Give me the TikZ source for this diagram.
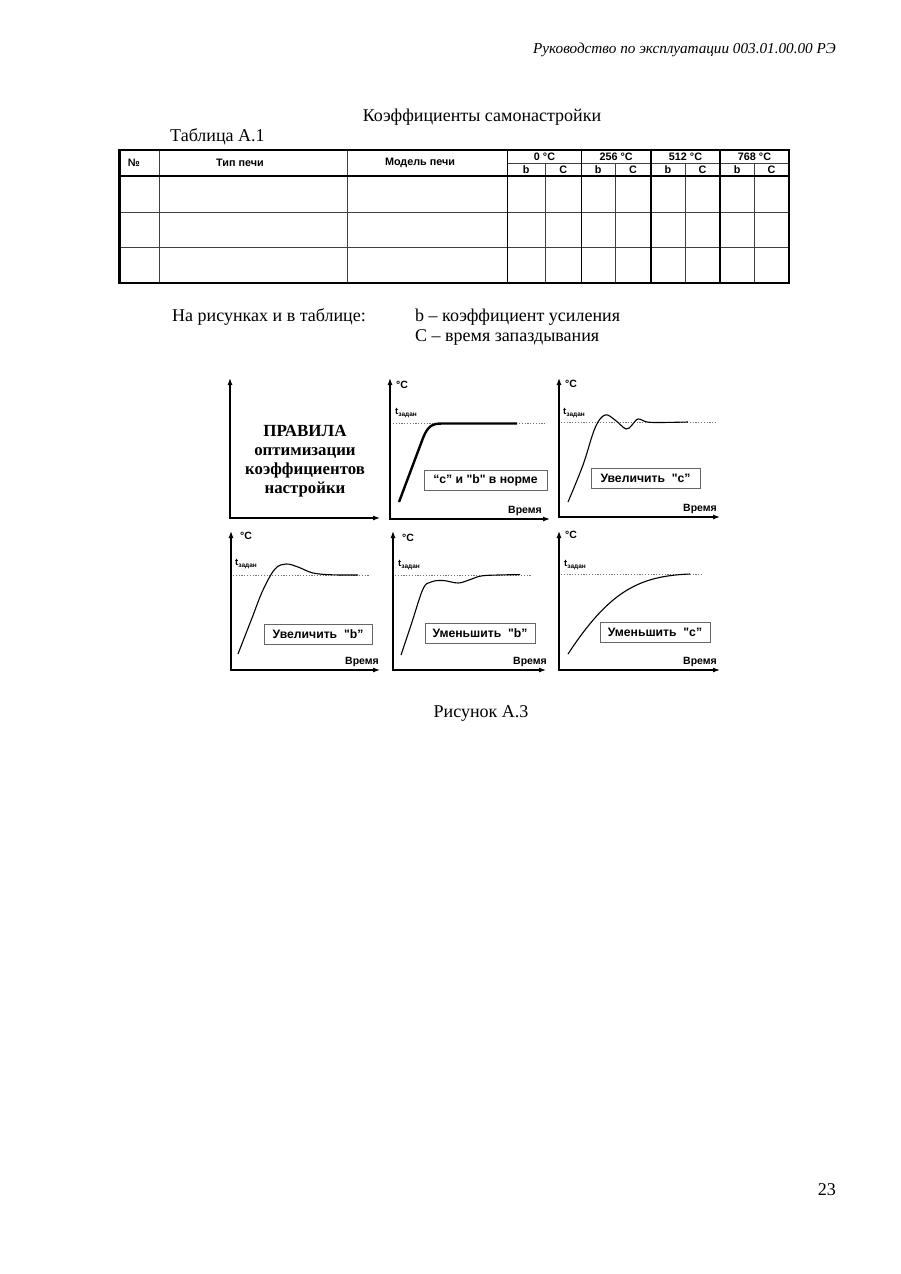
\documentclass[tikz,border=0pt]{standalone}
\usepackage{fontspec}
\setmainfont{Liberation Serif}
\setsansfont{Liberation Sans}
\usetikzlibrary{arrows.meta}
\newcommand\myaxes[5]{%
  \coordinate (#1-y) at (#2,#3);
  \coordinate (#1-o) at (#2,#4);
  \coordinate (#1-x) at (#5,#4);
  \draw[axisline] (#1-y) -- (#1-o) -- (#1-x);}
\newcommand\tzad{t\raisebox{-2.2pt}{\fontsize{6.5}{7}\selectfont задан}}
\begin{document}
\begin{tikzpicture}[x=1pt,y=-1pt,
  body/.style={font=\fontsize{18}{20}\selectfont,inner sep=0pt},
  thk/.style={line width=2.4pt},
  thn/.style={line width=0.9pt,black!75},
  hdr/.style={font=\sffamily\bfseries\fontsize{10.8}{11}\selectfont,inner sep=0pt},
  axisline/.style={line width=1.2pt,{Latex[length=7pt,width=5pt]}-{Latex[length=7pt,width=5pt]}},
  lbl/.style={font=\sffamily\bfseries\fontsize{10.5}{11}\selectfont,inner sep=0pt},
  tz/.style={font=\sffamily\bfseries\fontsize{9.5}{10}\selectfont,inner sep=0pt,anchor=west},
  setp/.style={black!55,line width=0.6pt,dash pattern=on 1.2pt off 1.6pt},
  curve/.style={line width=1.1pt},
  rule/.style={draw=black!60,line width=0.8pt,fill=white,font=\sffamily\bfseries\fontsize{12.2}{13}\selectfont,inner sep=0pt,minimum height=20pt},
  bigrule/.style={font=\bfseries\fontsize{16.8}{19}\selectfont,align=center,inner sep=0pt}
]
\useasboundingbox[fill=white] (0,0) rectangle (900,1274);

% header / footer
\node[body,font=\itshape\fontsize{15.2}{17}\selectfont,anchor=east] (hd) at (836,50) {Руководство по эксплуатации 003.01.00.00 РЭ};
\node[body,anchor=east] (pg) at (836,1190) {23};

% titles
\node[body] (title) at (482,117) {Коэффициенты самонастройки};
\node[body,anchor=west] (tab) at (170,137) {Таблица А.1};

% table lines
\foreach \x in {159,347} \draw[thn] (\x,150) -- (\x,283);
\foreach \x in {545,615,685,754.3} \draw[thn] (\x,163.3) -- (\x,283);
\foreach \y in {212,247.5} \draw[thn] (119.5,\y) -- (789,\y);
\draw[thn] (507.5,163.3) -- (789,163.3);
\foreach \x in {507.5,581.5,651,720} \draw[line width=1.8pt] (\x,150) -- (\x,283);
\draw[thk] (119.5,175.7) -- (789,175.7);
\draw[thk] (119.5,150) rectangle (789,283);

% table header text
\node[hdr] (hno) at (134,163) {№};
\node[hdr] (htype) at (240,163) {Тип печи};
\node[hdr] (hmod) at (420,163) {Модель печи};
\node[hdr] (g1) at (544.5,157) {0 °C};
\node[hdr] (g2) at (616.2,157) {256 °C};
\node[hdr] (g3) at (685.5,157) {512 °C};
\node[hdr] (g4) at (754.5,157) {768 °C};
\node[hdr] (b1) at (526.2,169.8) {b};
\node[hdr] (c1) at (563.2,169.8) {C};
\node[hdr] (b2) at (598.2,169.8) {b};
\node[hdr] (c2) at (633,169.8) {C};
\node[hdr] (b3) at (668,169.8) {b};
\node[hdr] (c3) at (702.5,169.8) {C};
\node[hdr] (b4) at (737.2,169.8) {b};
\node[hdr] (c4) at (771.6,169.8) {C};

% legend
\node[body,anchor=west] (leg) at (172,317) {На рисунках и в таблице:};
\node[body,anchor=west] (legb) at (415,317) {b – коэффициент усиления};
\node[body,anchor=west] (legc) at (415,337) {С – время запаздывания};

% panel 1
\myaxes{p1}{230}{378}{518}{380}
\node[bigrule] (rules) at (305,461) {{\fontsize{17}{19}\selectfont ПРАВИЛА}\\оптимизации\\коэффициентов\\настройки};

% panel 2
\myaxes{p2}{390}{378}{519}{550}
\node[lbl] (p2c) at (402,385) {°C};
\node[tz] (p2t) at (395,413) {\tzad};
\draw[setp] (393,423.5) -- (546,423.5);
\draw[line width=2.4pt,line join=round] (399,502) -- (423,438) .. controls (428,426) and (432,423.5) .. (442,423.5) -- (517,423.5);
\node[rule,minimum width=123pt] (p2r) at (485.5,480) {“c” и \textquotedbl b\textquotedbl\ в норме};
\node[lbl] (p2v) at (525,511) {Время};

% panel 3
\myaxes{p3}{559}{378}{517}{720}
\node[lbl] (p3c) at (571,384) {°C};
\node[tz] (p3t) at (563,413) {\tzad};
\draw[setp] (561,422) -- (716,422);
\draw[curve] plot[smooth,tension=0.6] coordinates {(568,502) (583,465) (595,428) (605,415) (615,420) (626,429) (632,425) (638,419) (647,422) (660,422.5) (688,422)};
\node[rule,minimum width=109pt] (p3r) at (645.5,478.5) {Увеличить\ \ \textquotedbl c”};
\node[lbl] (p3v) at (700,509) {Время};

% panel 4
\myaxes{p4}{231}{531}{670}{380}
\node[lbl] (p4c) at (246,536) {°C};
\node[tz] (p4t) at (235,564) {\tzad};
\draw[setp] (233,575) -- (370,575);
\draw[curve] plot[smooth,tension=0.6] coordinates {(238,654) (252,618) (263,590) (275,569) (286,564) (298,567) (313,573) (332,574.8) (358,575)};
\node[rule,minimum width=108pt] (p4r) at (318,634) {Увеличить\ \ \textquotedbl b”};
\node[lbl] (p4v) at (362,662) {Время};

% panel 5
\myaxes{p5}{393}{531}{670}{546}
\node[lbl] (p5c) at (408,538) {°C};
\node[tz] (p5t) at (398,565) {\tzad};
\draw[setp] (395,575) -- (532,575);
\draw[curve] plot[smooth,tension=0.6] coordinates {(401,655) (412,622) (423,589) (431,582) (443,580.5) (458,583) (469,580) (481,576) (498,575) (520,574.6)};
\node[rule,minimum width=110pt] (p5r) at (480,633) {Уменьшить\ \ \textquotedbl b”};
\node[lbl] (p5v) at (530,662) {Время};

% panel 6
\myaxes{p6}{559}{531}{670}{720}
\node[lbl] (p6c) at (571,535) {°C};
\node[tz] (p6t) at (564,565) {\tzad};
\draw[setp] (561,574.5) -- (702,574.5);
\draw[curve] (568,654) .. controls (610,590) and (640,576) .. (690,574);
\node[rule,minimum width=110pt] (p6r) at (655,632.5) {Уменьшить\ \ \textquotedbl c”};
\node[lbl] (p6v) at (700,662) {Время};

% caption
\node[body] (cap) at (481,713) {Рисунок А.3};
\end{tikzpicture}
\end{document}
